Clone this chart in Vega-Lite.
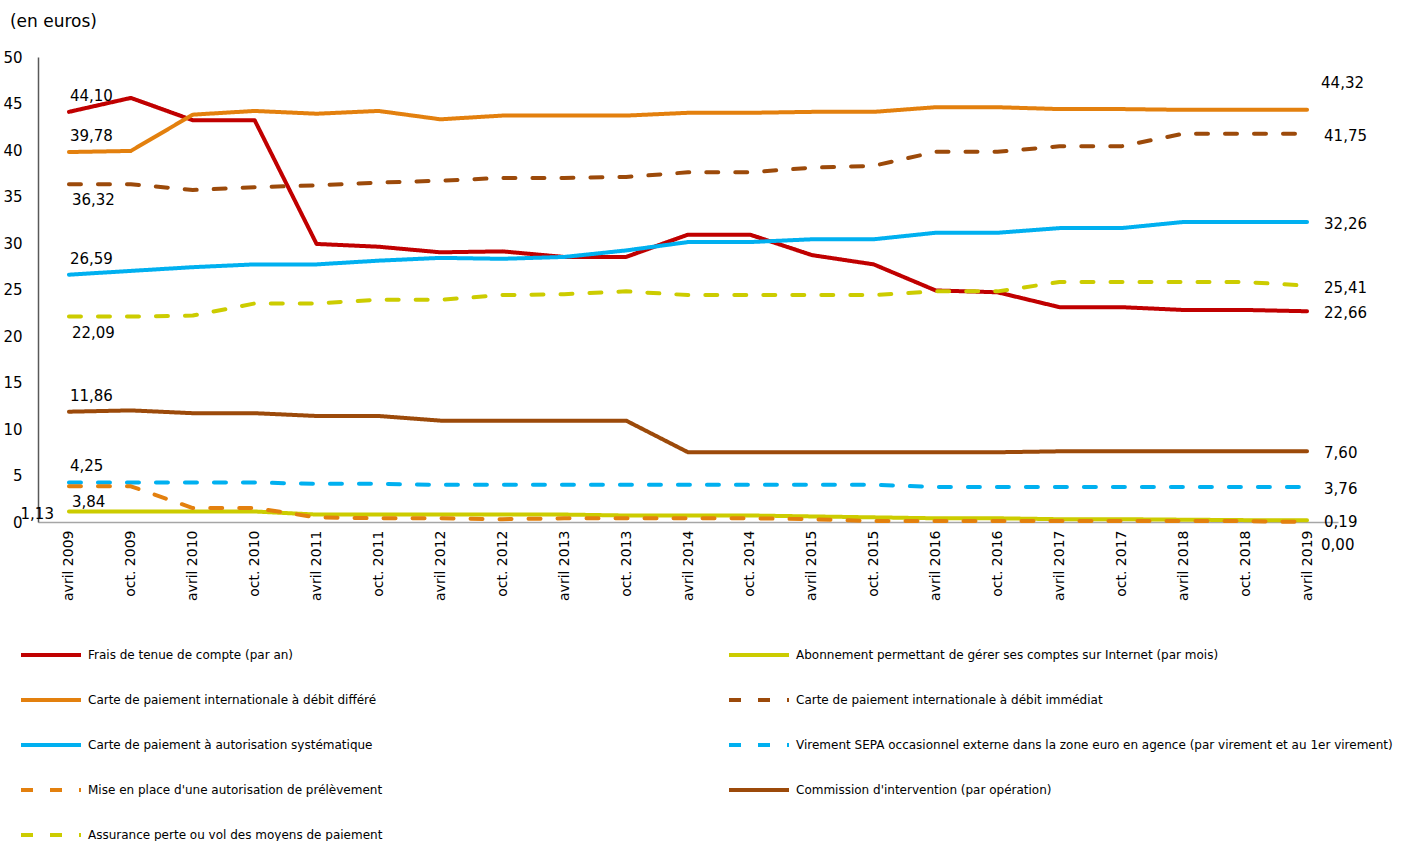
{
  "$schema": "https://vega.github.io/schema/vega-lite/v6.json",
  "width": 1300,
  "height": 465,
  "autosize": {"type": "none"},
  "padding": {"left": 38, "top": 57, "right": 68, "bottom": 319},
  "background": "white",
  "title": {"text": "(en euros)", "anchor": "start", "dx": 7, "offset": 19, "font": "DejaVu Sans", "fontSize": 17, "fontWeight": "normal", "color": "#000000"},
  "config": {
    "view": {"stroke": null},
    "locale": {"number": {"decimal": ",", "thousands": " ", "grouping": [3], "currency": ["", " €"]}},
    "text": {"font": "DejaVu Sans", "fontSize": 15, "color": "#000000"}
  },
  "data": {"values": [
    {"d": "avril 2009", "F": 44.10, "A": 1.13, "D": 39.78, "I": 36.32, "S": 26.59, "V": 4.25, "P": 3.84, "C": 11.86, "R": 22.09},
    {"d": "oct. 2009", "F": 45.6, "A": 1.13, "D": 39.9, "I": 36.32, "S": 27.0, "V": 4.25, "P": 3.84, "C": 12.0, "R": 22.09},
    {"d": "avril 2010", "F": 43.2, "A": 1.13, "D": 43.8, "I": 35.7, "S": 27.4, "V": 4.25, "P": 1.5, "C": 11.7, "R": 22.2},
    {"d": "oct. 2010", "F": 43.2, "A": 1.13, "D": 44.2, "I": 36.0, "S": 27.7, "V": 4.25, "P": 1.5, "C": 11.7, "R": 23.5},
    {"d": "avril 2011", "F": 29.9, "A": 0.8, "D": 43.9, "I": 36.2, "S": 27.7, "V": 4.1, "P": 0.5, "C": 11.4, "R": 23.5},
    {"d": "oct. 2011", "F": 29.6, "A": 0.8, "D": 44.2, "I": 36.5, "S": 28.1, "V": 4.1, "P": 0.4, "C": 11.4, "R": 23.9},
    {"d": "avril 2012", "F": 29.0, "A": 0.8, "D": 43.3, "I": 36.7, "S": 28.4, "V": 4.0, "P": 0.4, "C": 10.9, "R": 23.9},
    {"d": "oct. 2012", "F": 29.1, "A": 0.8, "D": 43.7, "I": 37.0, "S": 28.3, "V": 4.0, "P": 0.3, "C": 10.9, "R": 24.4},
    {"d": "avril 2013", "F": 28.5, "A": 0.8, "D": 43.7, "I": 37.0, "S": 28.5, "V": 4.0, "P": 0.4, "C": 10.9, "R": 24.5},
    {"d": "oct. 2013", "F": 28.5, "A": 0.7, "D": 43.7, "I": 37.1, "S": 29.2, "V": 4.0, "P": 0.4, "C": 10.9, "R": 24.8},
    {"d": "avril 2014", "F": 30.9, "A": 0.7, "D": 44.0, "I": 37.6, "S": 30.1, "V": 4.0, "P": 0.4, "C": 7.5, "R": 24.4},
    {"d": "oct. 2014", "F": 30.9, "A": 0.7, "D": 44.0, "I": 37.6, "S": 30.1, "V": 4.0, "P": 0.4, "C": 7.5, "R": 24.4},
    {"d": "avril 2015", "F": 28.7, "A": 0.6, "D": 44.1, "I": 38.1, "S": 30.4, "V": 4.0, "P": 0.3, "C": 7.5, "R": 24.4},
    {"d": "oct. 2015", "F": 27.7, "A": 0.5, "D": 44.1, "I": 38.3, "S": 30.4, "V": 4.0, "P": 0.1, "C": 7.5, "R": 24.4},
    {"d": "avril 2016", "F": 24.9, "A": 0.4, "D": 44.6, "I": 39.8, "S": 31.1, "V": 3.76, "P": 0.1, "C": 7.5, "R": 24.8},
    {"d": "oct. 2016", "F": 24.7, "A": 0.4, "D": 44.6, "I": 39.8, "S": 31.1, "V": 3.76, "P": 0.1, "C": 7.5, "R": 24.8},
    {"d": "avril 2017", "F": 23.1, "A": 0.3, "D": 44.4, "I": 40.4, "S": 31.6, "V": 3.76, "P": 0.1, "C": 7.6, "R": 25.8},
    {"d": "oct. 2017", "F": 23.1, "A": 0.3, "D": 44.4, "I": 40.4, "S": 31.6, "V": 3.76, "P": 0.1, "C": 7.6, "R": 25.8},
    {"d": "avril 2018", "F": 22.8, "A": 0.25, "D": 44.32, "I": 41.75, "S": 32.26, "V": 3.76, "P": 0.1, "C": 7.6, "R": 25.8},
    {"d": "oct. 2018", "F": 22.8, "A": 0.2, "D": 44.32, "I": 41.75, "S": 32.26, "V": 3.76, "P": 0.1, "C": 7.6, "R": 25.8},
    {"d": "avril 2019", "F": 22.66, "A": 0.19, "D": 44.32, "I": 41.75, "S": 32.26, "V": 3.76, "P": 0.00, "C": 7.60, "R": 25.41}
  ]},
  "transform": [
    {"fold": ["F", "A", "D", "I", "S", "V", "P", "C", "R"], "as": ["c", "v"]},
    {"lookup": "c", "from": {"data": {"values": [
      {"c": "F", "s": "Frais de tenue de compte (par an)"},
      {"c": "A", "s": "Abonnement permettant de gérer ses comptes sur Internet (par mois)"},
      {"c": "D", "s": "Carte de paiement internationale à débit différé"},
      {"c": "I", "s": "Carte de paiement internationale à débit immédiat"},
      {"c": "S", "s": "Carte de paiement à autorisation systématique"},
      {"c": "V", "s": "Virement SEPA occasionnel externe dans la zone euro en agence (par virement et au 1er virement)"},
      {"c": "P", "s": "Mise en place d'une autorisation de prélèvement"},
      {"c": "C", "s": "Commission d'intervention (par opération)"},
      {"c": "R", "s": "Assurance perte ou vol des moyens de paiement"}
    ]}, "key": "c", "fields": ["s"]}}
  ],
  "encoding": {
    "x": {"field": "d", "type": "ordinal", "sort": null, "scale": {"type": "point", "padding": 0.5},
      "axis": {"title": null, "labelAngle": -90, "labelFont": "DejaVu Sans", "labelFontSize": 14, "labelColor": "#000000", "labelPadding": 8, "ticks": false, "domainColor": "#a6a6a6", "domainWidth": 1.5, "grid": false}},
    "y": {"field": "v", "type": "quantitative", "scale": {"domain": [0, 50], "nice": false, "zero": true},
      "axis": {"title": null, "values": [0, 5, 10, 15, 20, 25, 30, 35, 40, 45, 50], "labelFont": "DejaVu Sans", "labelFontSize": 15, "labelColor": "#000000", "labelPadding": 16, "ticks": false, "domainColor": "#595959", "domainWidth": 1.5, "grid": false}}
  },
  "layer": [
    {
      "mark": {"type": "line", "strokeWidth": 4, "strokeCap": "round", "strokeJoin": "round"},
      "encoding": {
        "color": {"field": "s", "type": "nominal", "title": null,
          "scale": {
            "domain": ["Frais de tenue de compte (par an)", "Abonnement permettant de gérer ses comptes sur Internet (par mois)", "Carte de paiement internationale à débit différé", "Carte de paiement internationale à débit immédiat", "Carte de paiement à autorisation systématique", "Virement SEPA occasionnel externe dans la zone euro en agence (par virement et au 1er virement)", "Mise en place d'une autorisation de prélèvement", "Commission d'intervention (par opération)", "Assurance perte ou vol des moyens de paiement"],
            "range": ["#C00000", "#CCCC00", "#E3800E", "#9C4A0A", "#00B0F0", "#00B0F0", "#E3800E", "#9C4A0A", "#CCCC00"]},
          "legend": {"orient": "none", "legendX": -19, "legendY": 566, "columns": 2, "direction": "horizontal", "symbolType": "stroke", "symbolSize": 3600, "symbolStrokeWidth": 4, "labelFont": "DejaVu Sans", "labelFontSize": 12, "labelColor": "#000000", "labelLimit": 800, "labelOffset": 5, "rowPadding": 5, "columnPadding": 338}},
        "strokeDash": {"field": "s", "type": "nominal", "title": null,
          "scale": {
            "domain": ["Frais de tenue de compte (par an)", "Abonnement permettant de gérer ses comptes sur Internet (par mois)", "Carte de paiement internationale à débit différé", "Carte de paiement internationale à débit immédiat", "Carte de paiement à autorisation systématique", "Virement SEPA occasionnel externe dans la zone euro en agence (par virement et au 1er virement)", "Mise en place d'une autorisation de prélèvement", "Commission d'intervention (par opération)", "Assurance perte ou vol des moyens de paiement"],
            "range": [[1, 0], [1, 0], [1, 0], [12, 17], [1, 0], [12, 17], [12, 17], [1, 0], [12, 17]]}}
      }
    },
    {
      "transform": [{"filter": {"and": [{"field": "d", "equal": "avril 2009"}, {"field": "c", "oneOf": ["F", "D", "S", "C", "V"]}]}}],
      "mark": {"type": "text", "align": "left", "baseline": "middle", "dx": 1, "dy": -16},
      "encoding": {"text": {"field": "v", "type": "quantitative", "format": ".2f"}}
    },
    {
      "transform": [{"filter": {"and": [{"field": "d", "equal": "avril 2009"}, {"field": "c", "oneOf": ["I", "R", "P"]}]}}],
      "mark": {"type": "text", "align": "left", "baseline": "middle", "dx": 3, "dy": 16},
      "encoding": {"text": {"field": "v", "type": "quantitative", "format": ".2f"}}
    },
    {
      "transform": [{"filter": {"and": [{"field": "d", "equal": "avril 2009"}, {"field": "c", "equal": "A"}]}}],
      "mark": {"type": "text", "align": "right", "baseline": "middle", "dx": -15, "dy": 3},
      "encoding": {"text": {"field": "v", "type": "quantitative", "format": ".2f"}}
    },
    {
      "transform": [{"filter": {"and": [{"field": "d", "equal": "avril 2019"}, {"field": "c", "oneOf": ["F", "I", "S", "R", "C", "V", "A"]}]}}],
      "mark": {"type": "text", "align": "left", "baseline": "middle", "dx": 17, "dy": 2},
      "encoding": {"text": {"field": "v", "type": "quantitative", "format": ".2f"}}
    },
    {
      "transform": [{"filter": {"and": [{"field": "d", "equal": "avril 2019"}, {"field": "c", "equal": "D"}]}}],
      "mark": {"type": "text", "align": "left", "baseline": "middle", "dx": 14, "dy": -27},
      "encoding": {"text": {"field": "v", "type": "quantitative", "format": ".2f"}}
    },
    {
      "transform": [{"filter": {"and": [{"field": "d", "equal": "avril 2019"}, {"field": "c", "equal": "P"}]}}],
      "mark": {"type": "text", "align": "left", "baseline": "middle", "dx": 14, "dy": 23},
      "encoding": {"text": {"field": "v", "type": "quantitative", "format": ".2f"}}
    }
  ]
}
